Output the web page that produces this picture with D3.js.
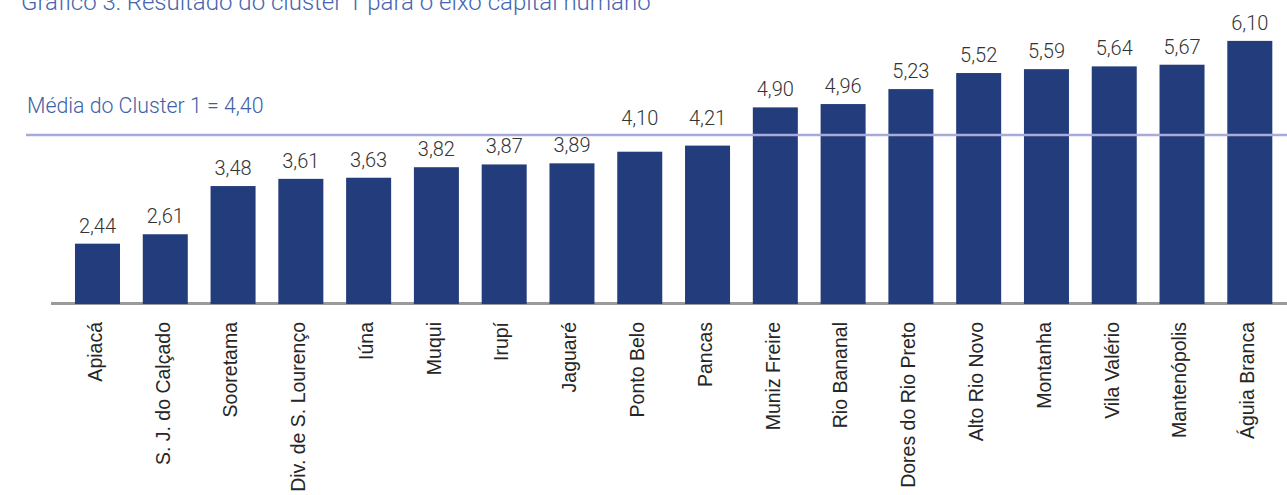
<!DOCTYPE html>
<html>
<head>
<meta charset="utf-8">
<script src="https://cdn.jsdelivr.net/npm/d3@7"></script>
<style>
  html, body { margin: 0; padding: 0; background: #fff; }
  svg { display: block; }
</style>
</head>
<body>
<svg id="chart" width="1287" height="495"></svg>
<script>
const categories = ["Apiacá", "S. J. do Calçado", "Sooretama", "Div. de S. Lourenço", "Iúna", "Muqui", "Irupí", "Jaguaré", "Ponto Belo", "Pancas", "Muniz Freire", "Rio Bananal", "Dores do Rio Preto", "Alto Rio Novo", "Montanha", "Vila Valério", "Mantenópolis", "Águia Branca"];
const values = [2.44, 2.61, 3.48, 3.61, 3.63, 3.82, 3.87, 3.89, 4.10, 4.21, 4.90, 4.96, 5.23, 5.52, 5.59, 5.64, 5.67, 6.10];
const clusterMean = 4.40;
const titleText = "Gráfico 3: Resultado do cluster 1 para o eixo capital humano";
const meanLabel = "Média do Cluster 1 = 4,40";

const svg = d3.select("#chart");
const fmt = v => d3.format(".2f")(v).replace(".", ",");

const x = d3.scaleBand()
  .domain(categories)
  .range([63.6, 1283.7])
  .paddingInner(0.336)
  .paddingOuter(0.168);

const y = d3.scaleLinear()
  .domain([1.36, 6.10])
  .range([303.5, 40.9]);

// title (partly cut at the top)
svg.append("text")
  .attr("x", 21).attr("y", 10)
  .attr("font-family", "Roboto, sans-serif")
  .attr("font-weight", 300)
  .attr("font-size", 24)
  .attr("fill", "#4466b0")
  .text(titleText);

// baseline
svg.append("line")
  .attr("x1", 51).attr("x2", 1287)
  .attr("y1", y(1.36)).attr("y2", y(1.36))
  .attr("stroke", "#9a9a9a").attr("stroke-width", 3);

// bars
svg.append("g").selectAll("rect")
  .data(values)
  .join("rect")
  .attr("x", (d, i) => x(categories[i]))
  .attr("width", x.bandwidth())
  .attr("y", d => y(d))
  .attr("height", d => y(1.36) - y(d) + 0.5)
  .attr("fill", "#233c7b");

// mean line
const my = y(clusterMean);
svg.append("line")
  .attr("x1", 26).attr("x2", 1287)
  .attr("y1", my).attr("y2", my)
  .attr("stroke", "#a8aad9").attr("stroke-width", 2.5);

svg.append("text")
  .attr("x", 27).attr("y", 113)
  .attr("font-family", "Roboto, sans-serif")
  .attr("font-weight", 300)
  .attr("font-size", 21.3)
  .attr("fill", "#3d5fa8")
  .text(meanLabel);

// value labels
svg.append("g").selectAll("text")
  .data(values)
  .join("text")
  .attr("x", (d, i) => x(categories[i]) + x.bandwidth() / 2)
  .attr("y", d => {
    let base = y(d) - 11;
    if (base > my - 2 && base - 14 < my + 1) base = my - 10;
    return base;
  })
  .attr("text-anchor", "middle")
  .attr("font-family", "Roboto, sans-serif")
  .attr("font-weight", 300)
  .attr("font-size", 20)
  .attr("fill", "#333333")
  .text(d => fmt(d));

// category labels
svg.append("g").selectAll("text")
  .data(categories)
  .join("text")
  .attr("transform", d => `translate(${x(d) + x.bandwidth() / 2},322) rotate(-90)`)
  .attr("dy", "0.22em")
  .attr("text-anchor", "end")
  .attr("font-family", "'Liberation Sans', Arial, sans-serif")
  .attr("font-size", 19.5)
  .attr("fill", "#262626")
  .text(d => d);
</script>
</body>
</html>
